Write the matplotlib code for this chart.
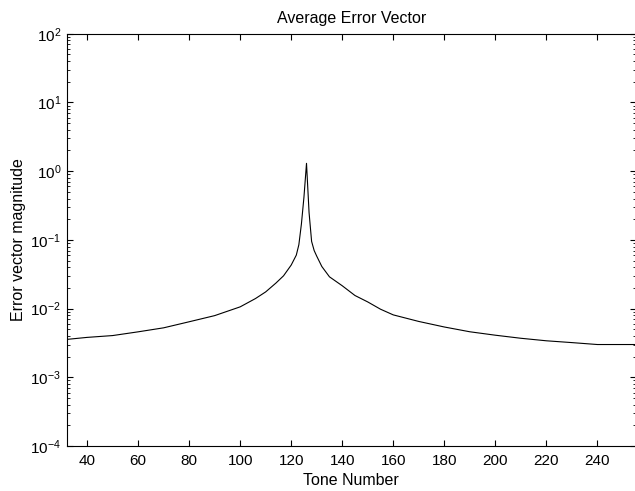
import matplotlib
matplotlib.use('Agg')
import matplotlib.pyplot as plt
from matplotlib.ticker import LogLocator, NullFormatter

plt.rcParams['font.family'] = ['Liberation Sans', 'DejaVu Sans']
plt.rcParams['mathtext.fontset'] = 'custom'
plt.rcParams['mathtext.rm'] = 'Liberation Sans'
plt.rcParams['mathtext.it'] = 'Liberation Sans:italic'
plt.rcParams['axes.unicode_minus'] = False

# tone number and average error vector magnitude
tones = [32, 40, 50, 60, 70, 80, 90, 100, 106, 110, 114, 117, 120, 122, 123,
         124, 125, 126, 127, 128, 129, 130, 132, 135, 140, 145, 150, 155, 160,
         170, 180, 190, 200, 210, 220, 230, 240, 250, 255]
evm = [0.00356, 0.00381, 0.00405, 0.00459, 0.00525, 0.00643, 0.0079, 0.0106,
       0.0140, 0.0175, 0.0235, 0.030, 0.043, 0.060, 0.085,
       0.17, 0.42, 1.30, 0.25, 0.095, 0.070, 0.058, 0.041, 0.029, 0.0215,
       0.0155, 0.0125, 0.0098, 0.0081,
       0.0065, 0.0054, 0.0046, 0.0041, 0.0037, 0.0034, 0.0032, 0.0030, 0.0030, 0.0030]
xticks = [40, 60, 80, 100, 120, 140, 160, 180, 200, 220, 240]

fig = plt.figure(figsize=(6.35, 4.91), dpi=100)
ax = fig.add_axes([0.105, 0.0916, 0.896, 0.8397])

ax.plot(tones, evm, color='k', linewidth=0.8)
ax.set_yscale('log')
ax.set_xlim(32, 255)
ax.set_ylim(1e-4, 1e2)
ax.set_xticks(xticks)
ax.yaxis.set_major_locator(LogLocator(base=10, numticks=10))
ax.yaxis.set_minor_locator(LogLocator(base=10, subs=range(2, 10), numticks=10))
ax.yaxis.set_minor_formatter(NullFormatter())

ax.tick_params(which='both', direction='in', top=True, right=True, labelsize=11)
ax.tick_params(which='major', length=4, width=0.8, pad=4)
ax.tick_params(axis='x', which='major', pad=6)
ax.tick_params(which='minor', length=2, width=0.6)
ax.spines['right'].set_visible(False)
for s in ax.spines.values():
    s.set_linewidth(0.8)

ax.set_title('Average Error Vector', fontsize=11.5, pad=8)
ax.set_xlabel('Tone Number', fontsize=11.5, labelpad=3)
ax.set_ylabel('Error vector magnitude', fontsize=11.5, labelpad=3)

fig.savefig('out.png', dpi=100)
